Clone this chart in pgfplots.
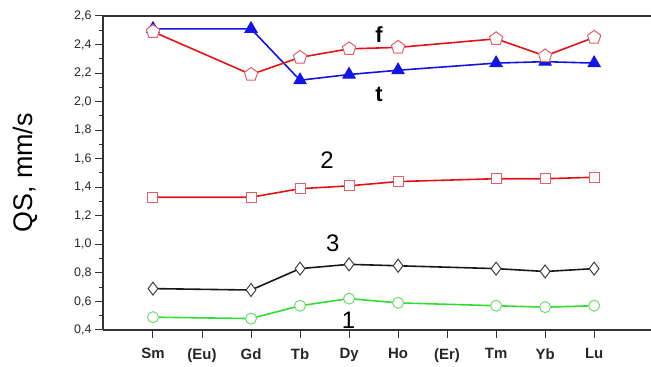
\documentclass[border=0pt]{standalone}
\usepackage{fontspec}
\setmainfont{Liberation Sans}
\usepackage{pgfplots}
\pgfplotsset{compat=1.18}
\definecolor{lred}{RGB}{228,20,20}
\definecolor{mred}{RGB}{225,95,105}
\definecolor{lblue}{RGB}{20,20,230}
\definecolor{lgreen}{RGB}{50,220,50}
\definecolor{mgreen}{RGB}{110,220,110}
\begin{document}
\begin{tikzpicture}
\useasboundingbox (0,0) rectangle (651bp,367bp);
\begin{axis}[
  at={(103bp,37bp)}, anchor=south west,
  scale only axis, width=548bp, height=314bp,
  xmin=-1.02, xmax=10.16, ymin=0.4, ymax=2.6,
  axis x line*=bottom, axis y line*=left,
  axis line style={line width=1.3bp, black!80},
  clip=false,
  tick align=outside,
  major tick length=8bp, minor tick length=4bp,
  every tick/.style={line width=1bp, black!80},
  xtick={0,...,9},
  xticklabels={Sm,(Eu),Gd,Tb,Dy,Ho,(Er),Tm,Yb,Lu},
  ytick={0.4,0.6,...,2.61},
  minor y tick num=1,
  xticklabel style={font=\fontsize{15}{17}\selectfont\bfseries, text=black!85, yshift=-7bp},
  yticklabel style={font=\fontsize{12.5}{14}\selectfont, text=black!85, /pgf/number format/.cd, use comma, fixed, fixed zerofill, precision=1, assume math mode=true},
  ylabel={QS, mm/s},
  ylabel style={font=\fontsize{27}{30}\selectfont, at={(axis description cs:-0.128,0.5)}, anchor=base},
  every axis plot/.append style={line width=1.6bp},
]
% t
\addplot[color=lblue, mark=triangle*, mark size=7bp, mark options={draw=lblue, fill=lblue, line width=1bp}]
 coordinates {(0,2.51) (2,2.51) (3,2.15) (4,2.19) (5,2.22) (7,2.27) (8,2.28) (9,2.27)};
% f
\addplot[color=lred, mark=pentagon*, mark size=7bp, mark options={draw=mred, fill=white, line width=1bp}]
 coordinates {(0,2.49) (2,2.19) (3,2.31) (4,2.37) (5,2.38) (7,2.44) (8,2.32) (9,2.45)};
% 2
\addplot[color=lred, mark=square*, mark size=5bp, mark options={draw=mred, fill=white, line width=1bp}]
 coordinates {(0,1.33) (2,1.33) (3,1.39) (4,1.41) (5,1.44) (7,1.46) (8,1.46) (9,1.47)};
% 3
\addplot[color=black!90, mark=diamond*, mark size=6.5bp, mark options={draw=black!75, fill=white, line width=1bp}]
 coordinates {(0,0.69) (2,0.68) (3,0.83) (4,0.86) (5,0.85) (7,0.83) (8,0.81) (9,0.83)};
% 1
\addplot[color=lgreen, mark=*, mark size=5.5bp, mark options={draw=mgreen, fill=white, line width=1bp}]
 coordinates {(0,0.49) (2,0.48) (3,0.57) (4,0.62) (5,0.59) (7,0.57) (8,0.56) (9,0.57)};
\draw[line width=1.3bp, black!80] (rel axis cs:0,1) -- (rel axis cs:1,1);
\node[font=\fontsize{22}{24}\selectfont\bfseries] at (axis cs:4.61,2.47) {f};
\node[font=\fontsize{22}{24}\selectfont\bfseries] at (axis cs:4.61,2.05) {t};
\node[font=\fontsize{24}{26}\selectfont] at (axis cs:3.55,1.59) {2};
\node[font=\fontsize{24}{26}\selectfont] at (axis cs:3.67,1.01) {3};
\node[font=\fontsize{24}{26}\selectfont] at (axis cs:3.99,0.47) {1};
\end{axis}
\end{tikzpicture}
\end{document}
